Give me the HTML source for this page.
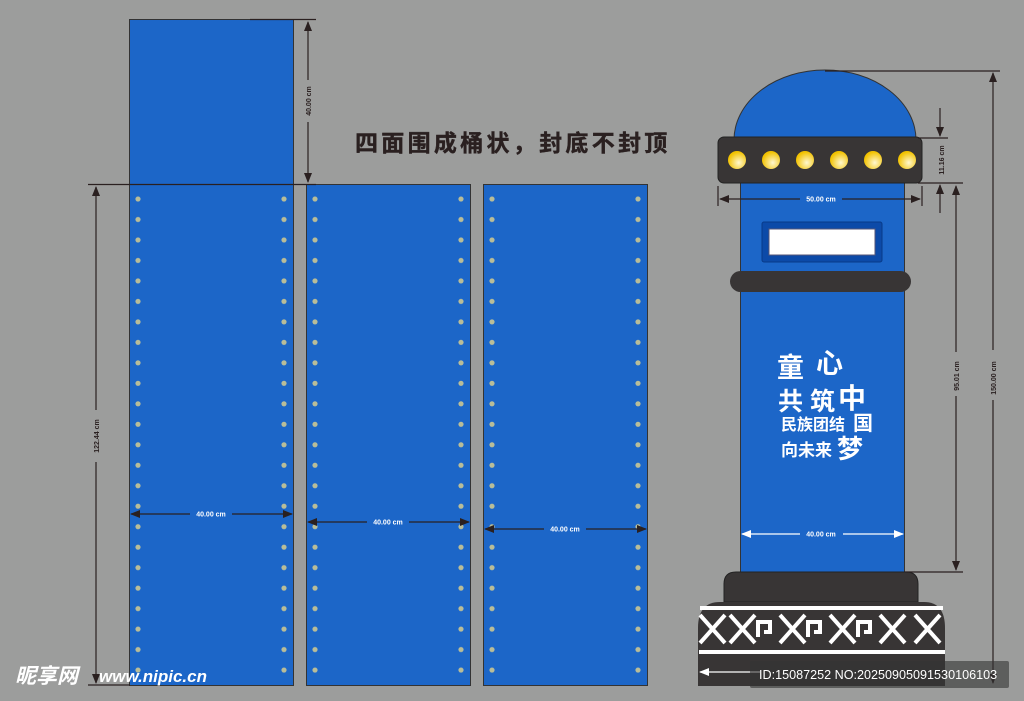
<!DOCTYPE html>
<html><head><meta charset="utf-8"><style>
html,body{margin:0;padding:0;background:#9c9d9c;}
svg{display:block;}
text{font-family:"Liberation Sans","Noto Sans CJK SC",sans-serif;}
</style></head><body>
<svg width="1024" height="701" viewBox="0 0 1024 701" xmlns="http://www.w3.org/2000/svg">
<defs>
<pattern id="dots" x="0" y="188.7" width="1024" height="20.48" patternUnits="userSpaceOnUse">
<circle cx="138" cy="10.3" r="2.6" fill="#b9bd98"/><circle cx="284" cy="10.3" r="2.6" fill="#b9bd98"/>
<circle cx="315" cy="10.3" r="2.6" fill="#b9bd98"/><circle cx="461" cy="10.3" r="2.6" fill="#b9bd98"/>
<circle cx="492" cy="10.3" r="2.6" fill="#b9bd98"/><circle cx="638" cy="10.3" r="2.6" fill="#b9bd98"/>
</pattern>
<radialGradient id="lg" cx="0.6" cy="0.65" r="0.6"><stop offset="0" stop-color="#fff8d0"/><stop offset="1" stop-color="#f2c200"/></radialGradient>
<marker id="ah" markerWidth="10" markerHeight="8" refX="9" refY="4" orient="auto-start-reverse" markerUnits="userSpaceOnUse"><path d="M0,0 L10,4 L0,8 Z" fill="#2a2020"/></marker>
<marker id="aw" markerWidth="10" markerHeight="8" refX="9" refY="4" orient="auto-start-reverse" markerUnits="userSpaceOnUse"><path d="M0,0 L10,4 L0,8 Z" fill="#fff"/></marker>
</defs>
<rect width="1024" height="701" fill="#9c9d9c"/>
<g fill="#1c66c8" stroke="#333" stroke-width="1">
<rect x="129.5" y="19.5" width="164" height="165"/>
<rect x="129.5" y="184.5" width="164" height="501"/>
<rect x="306.5" y="184.5" width="164" height="501"/>
<rect x="483.5" y="184.5" width="164" height="501"/>
</g>
<rect x="129" y="189" width="520" height="492" fill="url(#dots)"/>
<g stroke="#2a2020" stroke-width="1.2" fill="none">
<line x1="250" y1="19.5" x2="316" y2="19.5"/>
<line x1="88" y1="184.5" x2="316" y2="184.5"/>
<line x1="308" y1="22" x2="308" y2="80" marker-start="url(#ah)"/>
<line x1="308" y1="122" x2="308" y2="182" marker-end="url(#ah)"/>
<line x1="96" y1="187" x2="96" y2="410" marker-start="url(#ah)"/>
<line x1="96" y1="462" x2="96" y2="683" marker-end="url(#ah)"/>
<line x1="88" y1="685" x2="130" y2="685"/>
<line x1="131" y1="514" x2="190" y2="514" marker-start="url(#ah)"/>
<line x1="232" y1="514" x2="292" y2="514" marker-end="url(#ah)"/>
<line x1="308" y1="522" x2="367" y2="522" marker-start="url(#ah)"/>
<line x1="409" y1="522" x2="469" y2="522" marker-end="url(#ah)"/>
<line x1="485" y1="529" x2="544" y2="529" marker-start="url(#ah)"/>
<line x1="586" y1="529" x2="646" y2="529" marker-end="url(#ah)"/>
</g>
<g font-size="7" font-weight="bold" text-anchor="middle">
<text x="211" y="516.5" fill="#fff">40.00 cm</text>
<text x="388" y="524.5" fill="#fff">40.00 cm</text>
<text x="565" y="531.5" fill="#fff">40.00 cm</text>
<text transform="translate(311,101) rotate(-90)" fill="#2a2020">40.00 cm</text>
<text transform="translate(99,436) rotate(-90)" fill="#2a2020">122.44 cm</text>
</g>
<text x="355" y="151" font-size="23" font-weight="bold" fill="#2a2020" letter-spacing="3.3" stroke="#2a2020" stroke-width="0.4">四面围成桶状，封底不封顶</text>
<path d="M734,140 A91,70 0 0 1 916,140 Z" fill="#1c66c8" stroke="#333"/>
<rect x="740.5" y="180" width="164" height="395" fill="#1c66c8" stroke="#333"/>
<rect x="718" y="137" width="204" height="46" rx="6" fill="#383535" stroke="#222"/>
<g fill="url(#lg)">
<circle cx="737" cy="160" r="9"/><circle cx="771" cy="160" r="9"/><circle cx="805" cy="160" r="9"/>
<circle cx="839" cy="160" r="9"/><circle cx="873" cy="160" r="9"/><circle cx="907" cy="160" r="9"/>
</g>
<rect x="762" y="222" width="120" height="40" rx="2" fill="#0c4aa8" stroke="#083a88"/>
<rect x="769" y="229" width="106" height="26" fill="#fff" stroke="#557"/>
<rect x="730" y="271" width="181" height="21" rx="10.5" fill="#383535"/>
<path d="M724,602 L724,584 Q724,572 736,572 L906,572 Q918,572 918,584 L918,602 Z" fill="#383535" stroke="#222"/>
<path d="M698,686 L698,628 Q698,602 720,602 L924,602 Q945,602 945,628 L945,686 Z" fill="#383535"/>
<rect x="700" y="606" width="243" height="4" fill="#fff"/>
<rect x="699" y="650" width="246" height="4" fill="#fff"/>
<g stroke="#fff" stroke-width="4" fill="none">
<path d="M700,615 L725,643 M725,615 L700,643 M730,615 L755,643 M755,615 L730,643 M780,615 L805,643 M805,615 L780,643 M830,615 L855,643 M855,615 L830,643 M880,615 L905,643 M905,615 L880,643 M915,615 L940,643 M940,615 L915,643"/>
<path d="M758,637 L758,622 L770,622 L770,632 L764,632 M808,637 L808,622 L820,622 L820,632 L814,632 M858,637 L858,622 L870,622 L870,632 L864,632"/>
</g>
<g fill="#fff" font-weight="bold" font-family="'Noto Serif CJK SC','Noto Sans CJK SC',serif">
<text x="777" y="377" font-size="27">童</text><text x="816" y="373" font-size="27">心</text>
<text x="778" y="410" font-size="25">共</text><text x="810" y="410" font-size="25">筑</text>
<text x="838" y="408" font-size="28">中</text><text x="853" y="430" font-size="20">国</text>
<text x="837" y="458" font-size="26">梦</text>
</g>
<g fill="#fff" font-weight="bold" font-size="16" font-family="'Noto Sans CJK SC',sans-serif">
<text x="781" y="430">民族团结</text><text x="781" y="456" font-size="17">向未来</text>
</g>
<g stroke="#2a2020" stroke-width="1.2" fill="none">
<line x1="825" y1="71" x2="1000" y2="71"/>
<line x1="993" y1="73" x2="993" y2="350" marker-start="url(#ah)"/>
<line x1="993" y1="400" x2="993" y2="683" marker-end="url(#ah)"/>
<line x1="918" y1="138" x2="948" y2="138"/>
<line x1="918" y1="183" x2="963" y2="183"/>
<line x1="940" y1="108" x2="940" y2="136" marker-end="url(#ah)"/>
<line x1="940" y1="213" x2="940" y2="185" marker-end="url(#ah)"/>
<line x1="956" y1="186" x2="956" y2="352" marker-start="url(#ah)"/>
<line x1="956" y1="396" x2="956" y2="570" marker-end="url(#ah)"/>
<line x1="905" y1="572" x2="963" y2="572"/>
<line x1="718" y1="186" x2="718" y2="206"/><line x1="922" y1="186" x2="922" y2="206"/>
<line x1="720" y1="199" x2="800" y2="199" marker-start="url(#ah)"/>
<line x1="842" y1="199" x2="920" y2="199" marker-end="url(#ah)"/>
</g>
<g stroke="#fff" stroke-width="1.2">
<line x1="742" y1="534" x2="800" y2="534" marker-start="url(#aw)"/>
<line x1="843" y1="534" x2="903" y2="534" marker-end="url(#aw)"/>
<line x1="700" y1="672" x2="760" y2="672" marker-start="url(#aw)"/>
</g>
<g font-size="7" font-weight="bold" text-anchor="middle">
<text x="821" y="536.5" fill="#fff">40.00 cm</text>
<text x="821" y="201.5" fill="#fff">50.00 cm</text>
<text transform="translate(944,160) rotate(-90)" fill="#2a2020">11.16 cm</text>
<text transform="translate(959,376) rotate(-90)" fill="#2a2020">95.01 cm</text>
<text transform="translate(996,378) rotate(-90)" fill="#2a2020">150.00 cm</text>
</g>
<rect x="750" y="661" width="259" height="27" rx="2" fill="#333" fill-opacity="0.6"/>
<text x="759" y="679" font-size="12.6" fill="#fff">ID:15087252 NO:20250905091530106103</text>
<text x="15" y="683" font-size="21" font-weight="bold" font-style="italic" fill="#fff" font-family="'Noto Sans CJK SC',sans-serif">昵享网</text>
<text x="99" y="682" font-size="17" font-weight="bold" font-style="italic" fill="#fff">www.nipic.cn</text>
</svg>
</body></html>
